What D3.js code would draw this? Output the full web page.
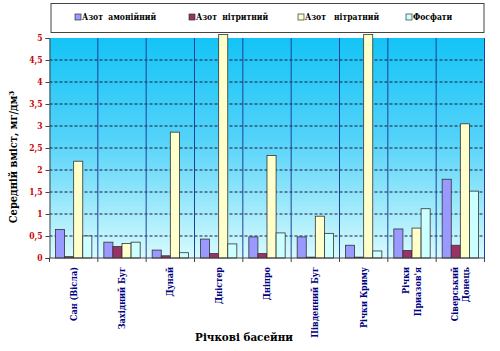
<!DOCTYPE html>
<html>
<head>
<meta charset="utf-8">
<script src="https://cdn.jsdelivr.net/npm/d3@7"></script>
<style>
  body { margin: 0; background: #fff; }
</style>
</head>
<body>
<div id="container"></div>
<script>
// river basins (two-line labels split with "|")
var basins = ["Сан (Вісла)", "Західний Буг", "Дунай", "Дністер", "Дніпро",
	"Південний Буг", "Річки Криму", "Річки|Приазов'я", "Сіверський|Донець"];
var seriesNames = ["Азот  амонійний", "Азот  нітритний", "Азот   нітратний", "Фосфати"];
var seriesColors = ["#9999ff", "#993366", "#ffffcc", "#ccffff"];

// mean content, mg/dm3 (nitrate of Дністер and Криму go off the top)
var ammonium  = [0.65, 0.36, 0.18, 0.43, 0.48, 0.48, 0.29, 0.66, 1.79];
var nitrite   = [0.03, 0.26, 0.05, 0.10, 0.10, 0.02, 0.02, 0.17, 0.29];
var nitrate   = [2.20, 0.33, 2.86, 5.08, 2.33, 0.95, 5.08, 0.68, 3.05];
var phosphate = [0.50, 0.36, 0.12, 0.32, 0.57, 0.56, 0.16, 1.12, 1.52];
var yTicks = [0, 0.5, 1, 1.5, 2, 2.5, 3, 3.5, 4, 4.5, 5];

var width = 500, height = 351;
var plot = {left: 49.5, right: 484.5, top: 38, bottom: 258};
// Liberation Serif here has no Cyrillic, so use DejaVu Serif
var serif = "'DejaVu Serif Condensed', 'DejaVu Serif', serif";

var svg = d3.select("#container").append("svg")
	.attr("width", width)
	.attr("height", height)
	.style("font-family", serif)
	.style("font-weight", "bold");

var grad = svg.append("defs").append("linearGradient")
	.attr("id", "bg").attr("x1", 0).attr("y1", 0).attr("x2", 0).attr("y2", 1);
grad.append("stop").attr("offset", "0%").attr("stop-color", "#14c4f6");
grad.append("stop").attr("offset", "45%").attr("stop-color", "#52d2f9");
grad.append("stop").attr("offset", "80%").attr("stop-color", "#a6ecfc");
grad.append("stop").attr("offset", "100%").attr("stop-color", "#d8fbff");

var x0 = d3.scaleBand().domain(d3.range(basins.length)).range([plot.left, plot.right]);
var x1 = d3.scaleBand().domain(d3.range(4)).range([6, x0.bandwidth() - 6]);
var y = d3.scaleLinear().domain([0, 5]).range([plot.bottom, plot.top]);

// plot background
svg.append("rect")
	.attr("x", plot.left).attr("y", plot.top)
	.attr("width", plot.right - plot.left).attr("height", plot.bottom - plot.top)
	.attr("fill", "url(#bg)");

// dashed gridlines
svg.selectAll(".grid")
	.data(yTicks.filter(function(d) { return d > 0 && d < 5; })).enter()
	.append("line")
		.attr("x1", plot.left).attr("x2", plot.right)
		.attr("y1", function(d) { return y(d); })
		.attr("y2", function(d) { return y(d); })
		.attr("stroke", "#1a1a3a").attr("stroke-width", 1)
		.attr("stroke-dasharray", "3,2");

// vertical category separators
svg.selectAll(".sep")
	.data(d3.range(1, basins.length + 1)).enter()
	.append("line")
		.attr("x1", function(d) { return plot.left + d * x0.step(); })
		.attr("x2", function(d) { return plot.left + d * x0.step(); })
		.attr("y1", plot.top).attr("y2", plot.bottom)
		.attr("stroke", "#1f3f9a").attr("stroke-width", 1);

// bars
var table = basins.map(function(b, i) {
	return [ammonium[i], nitrite[i], nitrate[i], phosphate[i]];
});
var groups = svg.selectAll(".grp")
	.data(table).enter()
	.append("g")
		.attr("transform", function(d, i) { return "translate(" + x0(i) + ",0)"; });
groups.selectAll("rect")
	.data(function(d) { return d; }).enter()
	.append("rect")
		.attr("x", function(d, j) { return x1(j); })
		.attr("width", x1.bandwidth())
		.attr("y", function(d) { return y(d); })
		.attr("height", function(d) { return y(0) - y(d); })
		.attr("fill", function(d, j) { return seriesColors[j]; })
		.attr("stroke", "#333")
		.attr("stroke-width", 0.8);

// axes
var yAxis = d3.axisLeft(y).tickValues(yTicks).tickSize(4)
	.tickFormat(function(d) { return String(d).replace(".", ","); });
var gy = svg.append("g")
	.attr("transform", "translate(" + plot.left + ",0)")
	.call(yAxis)
	.attr("font-family", null);
gy.select(".domain").attr("stroke", "#444");
gy.selectAll(".tick line").attr("stroke", "#444");
gy.selectAll(".tick text")
	.attr("fill", "#cc0000")
	.style("font-family", serif)
	.style("font-size", "8.5px")
	.attr("x", -7);

var gx = svg.append("g")
	.attr("transform", "translate(0," + plot.bottom + ")");
gx.append("line")
	.attr("x1", plot.left).attr("x2", plot.right)
	.attr("stroke", "#444");
gx.selectAll(".xt")
	.data(d3.range(0, basins.length + 1)).enter()
	.append("line")
		.attr("x1", function(d) { return plot.left + d * x0.step(); })
		.attr("x2", function(d) { return plot.left + d * x0.step(); })
		.attr("y1", 0).attr("y2", 4)
		.attr("stroke", "#444");

// rotated category labels
var labels = svg.selectAll(".xl")
	.data(basins).enter()
	.append("text")
		.attr("transform", function(d, i) {
			return "translate(" + (x0(i) + x0.bandwidth() / 2) + ",267) rotate(-90)";
		})
		.attr("text-anchor", "end")
		.attr("fill", "#000080")
		.style("font-family", serif)
		.style("font-size", "9px");
labels.each(function(d) {
	var parts = d.split("|");
	var t = d3.select(this);
	parts.forEach(function(p, k) {
		t.append("tspan")
			.attr("x", 0)
			.attr("dy", parts.length === 1 ? "0.35em" : (k === 0 ? "-0.3em" : "1.3em"))
			.text(p);
	});
});

// axis titles
svg.append("text")
	.attr("x", 244).attr("y", 341)
	.attr("text-anchor", "middle")
	.style("font-family", serif)
	.style("font-size", "11.5px")
	.text("Річкові басейни");

var yt = svg.append("text")
	.attr("transform", "translate(17,157) rotate(-90)")
	.attr("text-anchor", "middle")
	.style("font-family", serif)
	.style("font-size", "11px");
yt.append("tspan").text("Середній вміст, мг/дм");
yt.append("tspan").attr("dy", "-0.4em").style("font-size", "8px").text("3");

// legend
svg.append("rect")
	.attr("x", 51).attr("y", 3.5).attr("width", 433).attr("height", 29)
	.attr("fill", "#fff").attr("stroke", "#444").attr("stroke-width", 1);
var legendX = [75, 189, 298, 406];
var legend = svg.selectAll(".legend")
	.data(seriesNames).enter()
	.append("g")
		.attr("transform", function(d, i) { return "translate(" + legendX[i] + ",17)"; });
legend.append("rect")
	.attr("x", 0).attr("y", -3).attr("width", 6).attr("height", 6)
	.attr("fill", function(d, i) { return seriesColors[i]; })
	.attr("stroke", "#333").attr("stroke-width", 0.7);
legend.append("text")
	.attr("x", 7).attr("dy", "0.35em")
	.style("font-family", serif)
	.style("font-size", "8.5px")
	.style("white-space", "pre")
	.text(function(d) { return d; });
</script>
</body>
</html>
